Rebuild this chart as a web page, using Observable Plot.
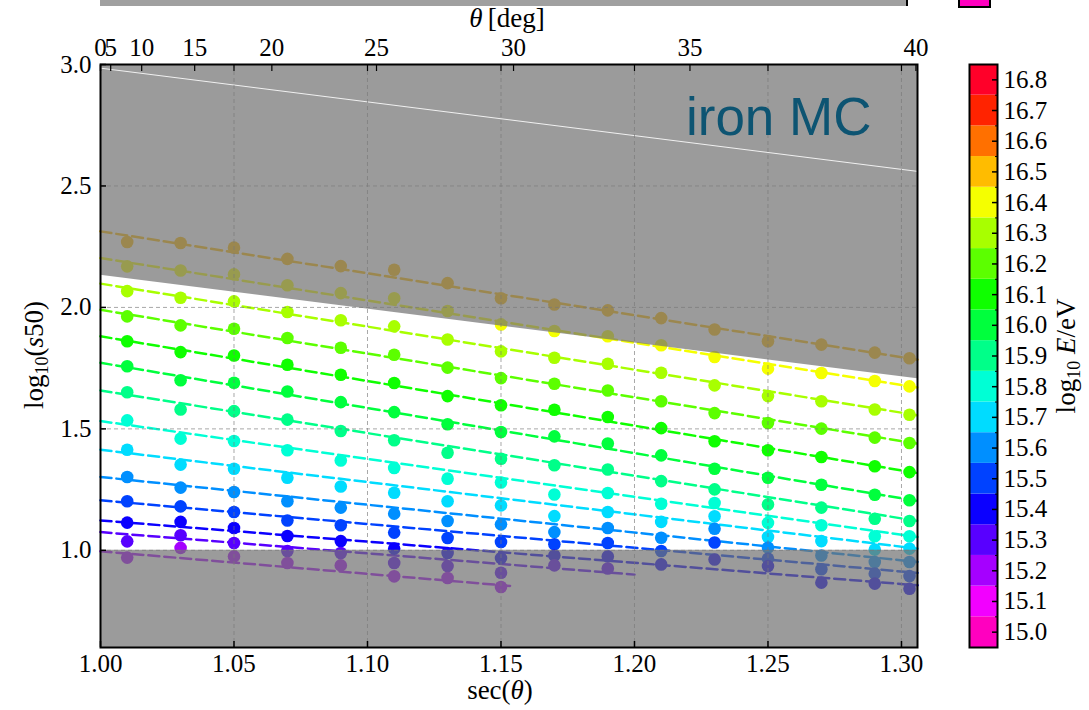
<!DOCTYPE html>
<html><head><meta charset="utf-8">
<script src="https://cdn.jsdelivr.net/npm/d3@7"></script>
<script src="https://cdn.jsdelivr.net/npm/@observablehq/plot@0.6"></script>
<style>
body{margin:0;background:#fff;}
#wrap{position:relative;width:1089px;height:710px;overflow:hidden;font-family:'Liberation Serif',serif;}
#wrap svg g[aria-label$="tick label"] text{font-size:25px !important;font-family:'Liberation Serif',serif !important;}
.lbl{position:absolute;white-space:nowrap;font-size:27px;color:#000;line-height:1;}
.deco{position:absolute;}
</style></head><body><div id="wrap"></div>
<script>
// ---- data ----
const levelLabels = ["15.0","15.1","15.2","15.3","15.4","15.5","15.6","15.7","15.8","15.9","16.0","16.1","16.2","16.3","16.4","16.5","16.6","16.7","16.8"];
const levelColors = ["#ff00bf","#f200ff","#a500ff","#5800ff","#0b00ff","#0042ff","#008fff","#00dcff","#00ffd5","#00ff89","#00ff3d","#0fff00","#5cff00","#a8ff00","#f5ff00","#ffbc00","#ff7000","#ff2300","#ff0029"];

const secCols = [1.01,1.03,1.05,1.07,1.09,1.11,1.13,1.15,1.17,1.19,1.21,1.23,1.25,1.27,1.29,1.303];
const energies = ["16.5","16.4","16.3","16.2","16.1","16.0","15.9","15.8","15.7","15.6","15.5","15.4","15.3","15.2"];

const s50_165 = [2.269,2.265,2.246,2.200,2.170,2.155,2.100,2.038,2.012,1.988,1.956,1.909,1.861,1.847,1.814,1.791];
const s50_164 = [2.169,2.152,2.136,2.091,2.059,2.038,1.985,1.930,1.903,1.881,1.844,1.796,1.748,1.730,1.697,1.675];
const s50_163 = [2.067,2.040,2.025,1.981,1.947,1.922,1.868,1.819,1.793,1.768,1.731,1.679,1.635,1.614,1.580,1.558];
const s50_162 = [1.963,1.926,1.912,1.874,1.834,1.805,1.752,1.709,1.686,1.658,1.614,1.565,1.524,1.501,1.464,1.442];
const s50_161 = [1.861,1.816,1.802,1.764,1.723,1.689,1.635,1.597,1.579,1.549,1.503,1.449,1.412,1.384,1.346,1.322];
const s50_160 = [1.758,1.700,1.690,1.654,1.610,1.569,1.519,1.487,1.469,1.440,1.391,1.336,1.299,1.270,1.229,1.206];
const s50_159 = [1.651,1.580,1.573,1.538,1.491,1.453,1.402,1.377,1.350,1.333,1.285,1.251,1.189,1.176,1.130,1.121];
const s50_158 = [1.535,1.460,1.450,1.412,1.370,1.339,1.295,1.279,1.230,1.236,1.192,1.195,1.113,1.103,1.058,1.058];
const s50_157 = [1.414,1.353,1.336,1.299,1.263,1.237,1.202,1.185,1.141,1.158,1.117,1.140,1.055,1.038,1.003,1.007];
const s50_156 = [1.302,1.258,1.240,1.202,1.176,1.151,1.121,1.107,1.075,1.092,1.052,1.089,1.011,0.979,0.952,0.952];
const s50_155 = [1.202,1.181,1.158,1.123,1.103,1.073,1.051,1.034,1.025,1.030,0.997,1.032,0.966,0.922,0.904,0.894];
const s50_154 = [1.114,1.117,1.092,1.059,1.038,1.007,0.989,0.968,0.979,0.975,0.942,0.962,0.935,0.867,0.863,0.842];
const s50_153 = [1.037,1.062,1.030,0.997,0.989,0.948,0.935,0.908,0.938,0.925];
const s50_152 = [0.970,1.010,0.975,0.948,0.938,0.893,0.886,0.849];

// linear fits: value at sec=1.0 and at the end of each fit
const fitStartY = [2.313,2.203,2.098,1.990,1.881,1.772,1.658,1.532,1.414,1.302,1.206,1.123,1.075,0.996];
const fitEndY   = [1.785,1.670,1.556,1.439,1.318,1.203,1.121,1.055,1.007,0.952,0.907,0.856,0.900,0.852];
const fitEndX   = [1.306,1.306,1.306,1.306,1.306,1.306,1.306,1.306,1.306,1.306,1.306,1.306,1.200,1.155];

// excluded regions
const cutX = [1.0, 1.306];
const upperCutY = [2.132, 1.706];
const upperEdgeY = [2.985, 2.560];
const lowerCutY = 1.0;

const xTicks = [1.00,1.05,1.10,1.15,1.20,1.25,1.30];
const yTicks = [1.0,1.5,2.0,2.5,3.0];
const thetaTicks = [0,5,10,15,20,25,30,35,40];

// ---- build tables ----
const seriesArrays = [s50_165,s50_164,s50_163,s50_162,s50_161,s50_160,s50_159,s50_158,s50_157,s50_156,s50_155,s50_154,s50_153,s50_152];
const points = [];
seriesArrays.forEach((arr, si) => arr.forEach((v, j) => points.push({E: energies[si], x: secCols[j], y: v})));
const fits = [];
energies.forEach((E, i) => { fits.push({E, x: 1.0, y: fitStartY[i]}); fits.push({E, x: fitEndX[i], y: fitEndY[i]}); });
const upperRows = cutX.map((x, i) => ({x, y1: upperCutY[i], y2: 3.0}));
const lowerRows = cutX.map((x) => ({x, y1: 0.6, y2: lowerCutY}));
const edgeRows = cutX.map((x, i) => ({x, y: upperEdgeY[i]}));
const thetaSec = thetaTicks.map(t => 1 / Math.cos(t * Math.PI / 180));

const serif = "'Liberation Serif', 'DejaVu Serif', serif";
const FS = 25;
const wrap = document.getElementById("wrap");

const main = Plot.plot({
  width: 1089, height: 710,
  marginLeft: 100, marginRight: 172, marginTop: 64, marginBottom: 63,
  x: {domain: [1.0, 1.306]},
  y: {domain: [0.6, 3.0]},
  color: {type: "ordinal", domain: levelLabels, range: levelColors},
  style: {fontFamily: serif, fontSize: FS + "px", color: "black", background: "transparent", overflow: "visible"},
  marks: [
    Plot.line(fits, {x: "x", y: "y", z: "E", stroke: "E", strokeWidth: 2.5, strokeDasharray: "11,5"}),
    Plot.dot(points, {x: "x", y: "y", fill: "E", r: 6.3}),
    Plot.areaY(upperRows, {x: "x", y1: "y1", y2: "y2", fill: "#707070", fillOpacity: 0.7}),
    Plot.areaY(lowerRows, {x: "x", y1: "y1", y2: "y2", fill: "#707070", fillOpacity: 0.7}),
    Plot.line(edgeRows, {x: "x", y: "y", stroke: "white", strokeWidth: 1, strokeOpacity: 0.85}),
    Plot.gridX({ticks: xTicks.slice(1), stroke: "#7a7a7a", strokeOpacity: 0.65, strokeDasharray: "4,3", strokeWidth: 1}),
    Plot.gridY({ticks: yTicks.slice(0, 4), stroke: "#7a7a7a", strokeOpacity: 0.65, strokeDasharray: "4,3", strokeWidth: 1}),
    Plot.text(["iron MC"], {frameAnchor: "top-right", text: d => d, dx: -46, dy: 33, textAnchor: "end", lineAnchor: "top", fontSize: 53, fontFamily: "'Liberation Sans', Arial, sans-serif", fill: "#0d5472"}),
    Plot.axisX({ticks: xTicks, tickSize: 0, tickPadding: 7, tickFormat: d => d.toFixed(2), label: null}),
    Plot.axisX({ticks: xTicks, tickSize: 6, dy: -6, tickFormat: () => "", label: null, strokeWidth: 1.5}),
    Plot.axisX({anchor: "top", ticks: xTicks, tickSize: 6, dy: 6, tickFormat: () => "", label: null, strokeWidth: 1.2}),
    Plot.axisX({anchor: "top", ticks: thetaSec, tickSize: 0, tickPadding: 9, tickFormat: (d) => String(thetaTicks[thetaSec.indexOf(d)]), label: null}),
    Plot.axisX({anchor: "top", ticks: thetaSec, tickSize: 6, dy: 6, tickFormat: () => "", label: null, strokeWidth: 1.2}),
    Plot.axisY({ticks: yTicks, tickSize: 0, tickPadding: 9, tickFormat: d => d.toFixed(1), label: null}),
    Plot.axisY({ticks: yTicks, tickSize: 6, dx: 6, tickFormat: () => "", label: null, strokeWidth: 1.5}),
    Plot.frame({stroke: "black", strokeWidth: 2})
  ]
});
main.style.position = "absolute"; main.style.left = "0px"; main.style.top = "0px";
wrap.appendChild(main);

// colorbar
const cbRows = levelLabels.map(l => ({label: l, v: +l}));
const cbMinor = levelLabels.slice(1).map(l => +l - 0.05);
const cb = Plot.plot({
  width: 120, height: 710,
  marginLeft: 1, marginRight: 91, marginTop: 64, marginBottom: 63,
  y: {domain: [14.95, 16.85]},
  color: {type: "ordinal", domain: levelLabels, range: levelColors},
  style: {fontFamily: serif, fontSize: FS + "px", color: "black", background: "transparent", overflow: "visible"},
  marks: [
    Plot.barY(cbRows, {y1: d => d.v - 0.05, y2: d => d.v + 0.05, fill: "label"}),
    Plot.axisY({anchor: "right", ticks: cbRows.map(d => d.v), tickSize: 0, tickPadding: 6, tickFormat: d => d.toFixed(1), label: null}),
    Plot.axisY({anchor: "right", ticks: cbRows.map(d => d.v), tickSize: 6, dx: -6, tickFormat: () => "", label: null, strokeWidth: 1.5}),
    Plot.axisY({anchor: "right", ticks: cbMinor, tickSize: 3, dx: -3, tickFormat: () => "", label: null, strokeWidth: 1}),
    Plot.frame({stroke: "black", strokeWidth: 2})
  ]
});
cb.style.position = "absolute"; cb.style.left = "968px"; cb.style.top = "0px";
wrap.appendChild(cb);

// labels and remnants of the figure above
const add = (html, css) => { const d = document.createElement("div"); d.className = "lbl"; d.innerHTML = html; Object.assign(d.style, css); wrap.appendChild(d); return d; };
add("<i>θ</i>&#8201;[deg]", {left: "507px", top: "18px", transform: "translate(-50%,-50%)"});
add("sec(<i>θ</i>)", {left: "500px", top: "690px", transform: "translate(-50%,-50%)"});
add("log<sub style='font-size:18px;vertical-align:-5px'>10</sub>(<i>s</i>50)", {left: "36px", top: "355px", transform: "translate(-50%,-50%) rotate(-90deg)"});
add("log<sub style='font-size:18px;vertical-align:-5px'>10</sub> <i>E</i>/eV", {left: "1068px", top: "356px", transform: "translate(-50%,-50%) rotate(-90deg)"});

const deco = (css) => { const d = document.createElement("div"); d.className = "deco"; Object.assign(d.style, css); wrap.appendChild(d); };
deco({left: "100px", top: "0px", width: "806px", height: "6px", background: "#a0a0a0", borderRight: "2px solid #000"});
deco({left: "958px", top: "0px", width: "29px", height: "6px", background: "#ff00bf", border: "2px solid #000", borderTop: "none"});
</script></body></html>
